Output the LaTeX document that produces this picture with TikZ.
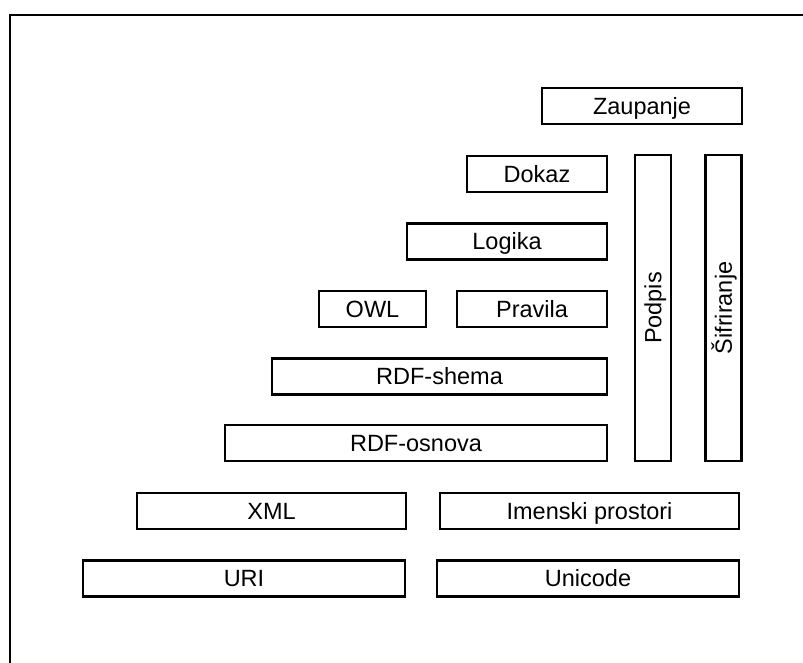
\documentclass[tikz,border=0pt]{standalone}
\usepackage{fontspec}
\setmainfont{Liberation Sans}
\tikzset{
    sloj/.style={draw, rectangle, line width=2.2pt, minimum height=36pt, inner sep=0pt,
        text height=16.5pt, text depth=0pt, font=\fontsize{23.5}{28}\selectfont},
}
\begin{document}
\begin{tikzpicture}[x=1pt,y=-1pt]
    \useasboundingbox (0,0) rectangle (803,663);
    \draw[line width=2.4pt] (10,663) -- (10,15) -- (803,15);

    % spodnje plasti
    \node[sloj, minimum width=322pt] (uri) at (244,578.5) {URI};
    \node[sloj, minimum width=302pt] (unicode) at (588,578.5) {Unicode};
    \node[sloj, minimum width=269pt] (xml) at (271.5,511) {XML};
    \node[sloj, minimum width=299pt] (imena) at (589.5,511) {Imenski prostori};

    % srednje plasti
    \node[sloj, minimum width=382pt] (rdfosnova) at (416,443) {RDF-osnova};
    \node[sloj, minimum width=335pt] (rdfshema) at (439.5,376.5) {RDF-shema};
    \node[sloj, minimum width=107pt] (owl) at (372.5,309) {OWL};
    \node[sloj, minimum width=150pt] (pravila) at (532,309) {Pravila};
    \node[sloj, minimum width=200pt] (logika) at (507,241.5) {Logika};
    \node[sloj, minimum width=140pt] (dokaz) at (537,174) {Dokaz};
    \node[sloj, minimum width=200pt] (zaupanje) at (642,106) {Zaupanje};

    % navpicni plasti
    \node[sloj, rotate=90, minimum width=306pt] (podpis) at (653,308) {Podpis};
    \node[sloj, rotate=90, minimum width=306pt] (sifriranje) at (723.5,308) {Šifriranje};
\end{tikzpicture}
\end{document}
